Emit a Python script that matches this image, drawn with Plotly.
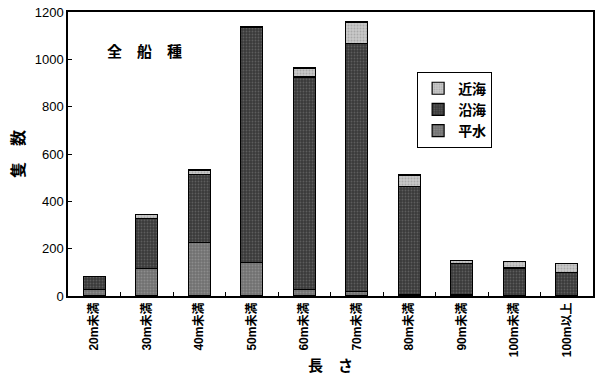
import plotly.graph_objects as go

categories = ["20m未満", "30m未満", "40m未満", "50m未満", "60m未満",
              "70m未満", "80m未満", "90m未満", "100m未満", "100m以上"]
heisui = [27, 115, 227, 143, 27, 20, 5, 5, 3, 3]      # 平水
engan = [57, 213, 287, 990, 898, 1047, 457, 134, 115, 97]  # 沿海
kinkai = [0, 15, 18, 5, 38, 91, 49, 10, 27, 39]     # 近海
yticks = [0, 200, 400, 600, 800, 1000, 1200]

font_main = "Liberation Sans, Noto Sans CJK JP, sans-serif"
font_cjk = "Noto Sans CJK JP"
line = dict(color="black", width=1.2)

fig = go.Figure()
fig.add_trace(go.Bar(x=categories, y=heisui, name="平水",
                     marker=dict(color="#707070", line=line,
                                 pattern=dict(shape=".", fgcolor="#a8a8a8", size=3, solidity=0.35))))
fig.add_trace(go.Bar(x=categories, y=engan, name="沿海",
                     marker=dict(color="#3a3a3a", line=line,
                                 pattern=dict(shape=".", fgcolor="#808080", size=3, solidity=0.3))))
fig.add_trace(go.Bar(x=categories, y=kinkai, name="近海",
                     marker=dict(color="#c8c8c8", line=line,
                                 pattern=dict(shape=".", fgcolor="#8a8a8a", size=3, solidity=0.3))))

fig.update_layout(
    width=600, height=383,
    margin=dict(l=68, r=5, t=10, b=87),
    barmode="stack", bargap=0.58,
    plot_bgcolor="white", paper_bgcolor="white",
    font=dict(family=font_main, size=12, color="black"),
    showlegend=True,
    legend=dict(x=0.665, y=0.79, xanchor="left", yanchor="top",
                traceorder="reversed", bordercolor="black", borderwidth=1,
                bgcolor="white", font=dict(size=14, family=font_cjk, weight="bold", color="black"),
                itemwidth=30, tracegroupgap=0),
    xaxis=dict(showline=True, linecolor="black", linewidth=1.5, mirror=True,
               ticks="inside", ticklen=4, tickson="boundaries", tickcolor="black",
               tickangle=-90, tickfont=dict(size=12, family=font_main, weight="bold", color="black"),
               title=dict(text="長　さ", font=dict(size=15, family=font_cjk, weight="bold", color="black"), standoff=4)),
    yaxis=dict(range=[0, 1200], tickvals=yticks, showline=True, linecolor="black",
               linewidth=1.5, mirror=True, showgrid=False, zeroline=False,
               ticks="inside", ticklen=4, tickcolor="black",
               tickfont=dict(size=13, family=font_main, color="black"),
               title=dict(text="隻　数", font=dict(size=16, family=font_cjk, weight="bold", color="black"), standoff=6)),
    annotations=[dict(text="全　船　種", xref="paper", yref="paper", x=0.07, y=0.907,
                      xanchor="left", showarrow=False,
                      font=dict(size=15, family=font_cjk, weight="bold", color="black"))],
)

fig.write_html("out.html")
